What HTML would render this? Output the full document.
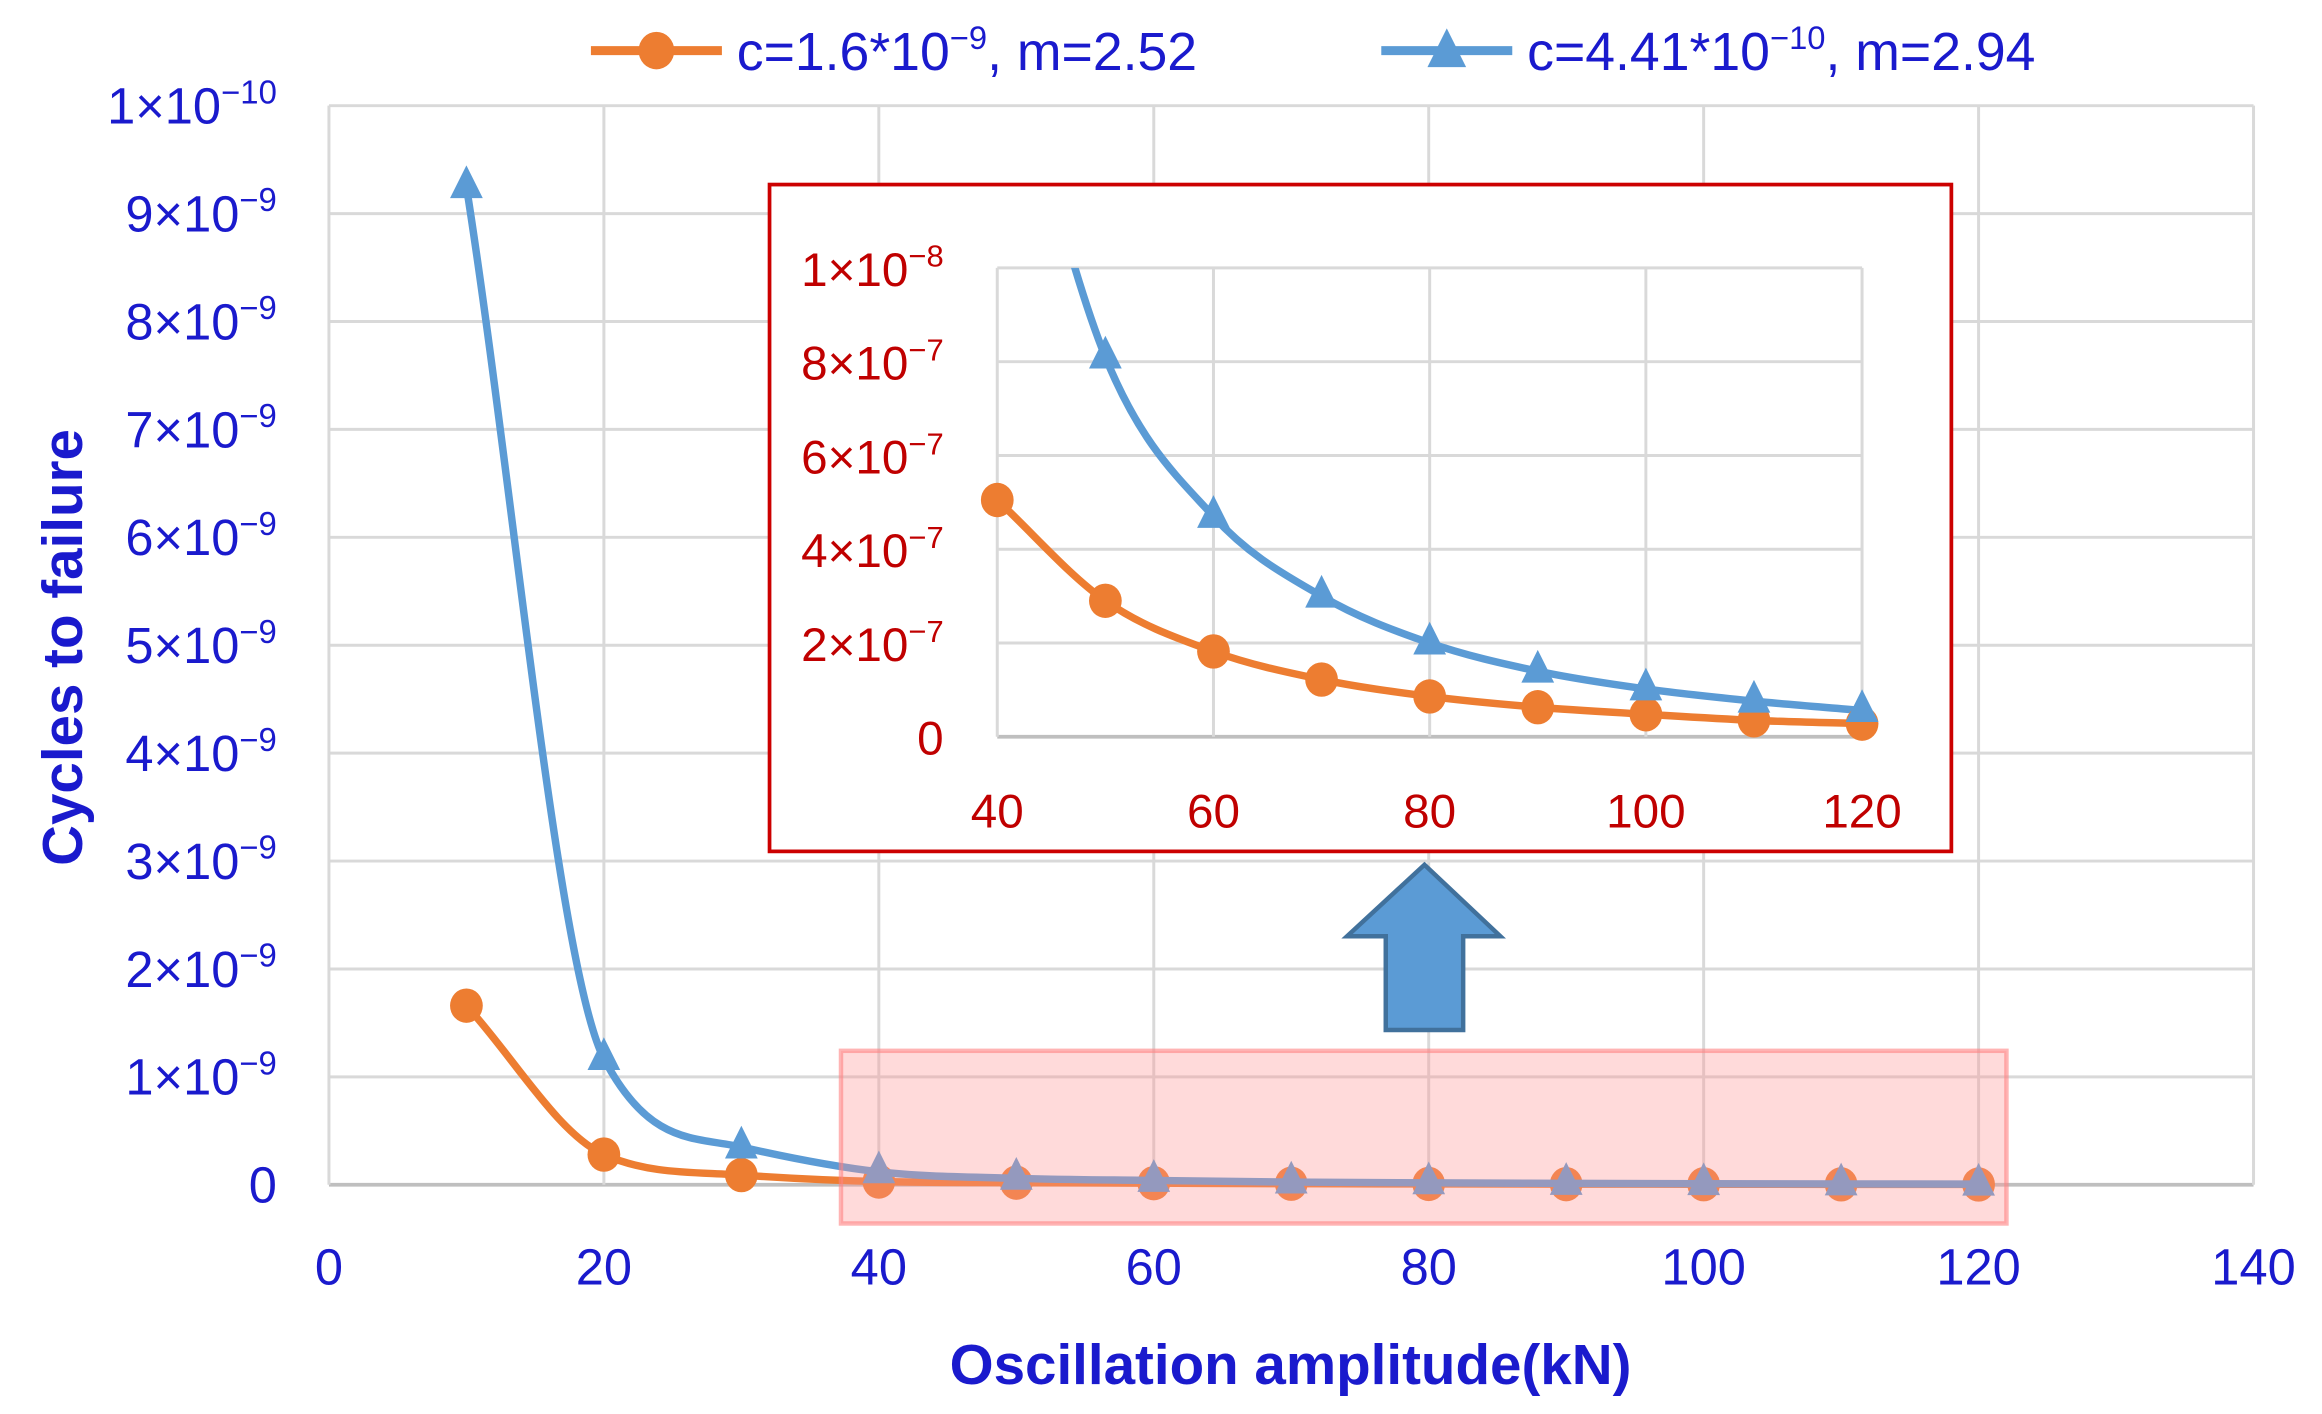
<!DOCTYPE html>
<html><head><meta charset="utf-8"><style>
html,body{margin:0;padding:0;background:#fff;}
svg{display:block;}
text{font-family:"Liberation Sans Narrow","Liberation Sans",sans-serif;}
</style></head><body>
<svg id="chart" width="2322" height="1414" viewBox="0 0 1560 950" preserveAspectRatio="none" xmlns="http://www.w3.org/2000/svg">
<g id="main"></g>
<g id="inset"></g>
</svg>
<script>
// Main chart data (y in units of 1e-9)
const xVals = [10,20,30,40,50,60,70,80,90,100,110,120];
const orangeMain = [1.66,0.28,0.09,0.03,0.02,0.015,0.01,0.008,0.006,0.005,0.004,0.003];
const blueMain = [9.25,1.17,0.35,0.12,0.06,0.04,0.025,0.018,0.013,0.01,0.008,0.006];
const xTicks = [0,20,40,60,80,100,120,140];
const yTickMant = ["0","1","2","3","4","5","6","7","8","9","1"];
const yTickExp = ["","-9","-9","-9","-9","-9","-9","-9","-9","-9","-10"];
// Inset data (y in units of 1e-7)
const insetX = [40,50,60,70,80,90,100,110,120];
const orangeInset = [5.05,2.9,1.82,1.22,0.86,0.63,0.48,0.35,0.28];
const blueInset = [16,8.1,4.7,3.0,2.0,1.4,1.02,0.76,0.56];
const insetXTicks = [40,60,80,100,120];
const insetYTickMant = ["0","2","4","6","8","1"];
const insetYTickExp = ["","-7","-7","-7","-7","-8"];

const NS="http://www.w3.org/2000/svg";
function mk(tag,attrs,parent){const e=document.createElementNS(NS,tag);for(const k in attrs)e.setAttribute(k,attrs[k]);parent.appendChild(e);return e;}
function smooth(pts){
  const n=pts.length;const d=[],m=new Array(n);
  for(let i=0;i<n-1;i++)d.push((pts[i+1][1]-pts[i][1])/(pts[i+1][0]-pts[i][0]));
  m[0]=d[0];m[n-1]=d[n-2];
  for(let i=1;i<n-1;i++){m[i]=(d[i-1]*d[i]<=0)?0:(d[i-1]+d[i])/2;}
  for(let i=0;i<n-1;i++){if(d[i]===0){m[i]=0;m[i+1]=0;continue;}const a=m[i]/d[i],b=m[i+1]/d[i],s=a*a+b*b;if(s>9){const t=3/Math.sqrt(s);m[i]=t*a*d[i];m[i+1]=t*b*d[i];}}
  let path=`M${pts[0][0]},${pts[0][1]}`;
  for(let i=0;i<n-1;i++){const h=(pts[i+1][0]-pts[i][0])/3;path+=` C${pts[i][0]+h},${pts[i][1]+m[i]*h} ${pts[i+1][0]-h},${pts[i+1][1]-m[i+1]*h} ${pts[i+1][0]},${pts[i+1][1]}`;}
  return path;}
function supLabel(g,x,y,m,e,size,color,anchor){const t=mk('text',{x:x,y:y,'font-size':size,fill:color,'text-anchor':anchor},g);t.appendChild(document.createTextNode(m==="0"&&e===""?"0":m+"×10"));if(e){const s=mk('tspan',{dy:-size*0.4,'font-size':size*0.65},t);s.textContent="−"+e.replace('-','');}return t;}
function circle(g,x,y,r){return mk('ellipse',{cx:x,cy:y,rx:r,ry:r*1.05,fill:'#ED7D31'},g);}
function tri(g,x,y,r){return mk('polygon',{points:`${x},${y-r*1.3} ${x-r},${y+r*0.7} ${x+r},${y+r*0.7}`,fill:'#5B9BD5'},g);}

const main=document.getElementById('main');
const X0=221,X1=1514,Y0=796,Y1=71;
const sx=v=>X0+(v-0)/(140-0)*(X1-X0);
const sy=v=>Y0-(v/10)*(Y0-Y1);
for(let i=0;i<=10;i++){const l=mk('line',{x1:X0,x2:X1,y1:sy(i),y2:sy(i),stroke:i===0?'#bfbfbf':'#d9d9d9','stroke-width':i===0?2.5:2},main);}
xTicks.forEach(v=>{const l=mk('line',{x1:sx(v),x2:sx(v),y1:Y1,y2:Y0,stroke:'#d9d9d9','stroke-width':2},main);});
yTickMant.forEach((m,i)=>{const t=supLabel(main,186,sy(i)+12,m,yTickExp[i],34,'#1a1acd','end');});
xTicks.forEach(v=>{const t=mk('text',{x:sx(v),y:863,'font-size':34,fill:'#1a1acd','text-anchor':'middle'},main);t.textContent=v;});
let tt=mk('text',{x:867,y:930,'font-size':38,'font-weight':'bold',fill:'#1a1acd','text-anchor':'middle'},main);tt.textContent='Oscillation amplitude(kN)';

tt=mk('text',{x:0,y:0,'font-size':38,'font-weight':'bold',fill:'#1a1acd','text-anchor':'middle',transform:'translate(55,435) rotate(-90)'},main);tt.textContent='Cycles to failure';

let p=mk('path',{d:smooth(xVals.map((x,i)=>[sx(x),sy(orangeMain[i])])),fill:'none',stroke:'#ED7D31','stroke-width':5},main);

xVals.forEach((x,i)=>{const c=circle(main,sx(x),sy(orangeMain[i]),11);});
p=mk('path',{d:smooth(xVals.map((x,i)=>[sx(x),sy(blueMain[i])])),fill:'none',stroke:'#5B9BD5','stroke-width':5},main);

xVals.forEach((x,i)=>{const c=tri(main,sx(x),sy(blueMain[i]),11);});
let r=mk('rect',{x:565,y:706,width:783,height:116,fill:'rgba(255,150,150,0.35)',stroke:'rgba(255,130,130,0.6)','stroke-width':3},main);

r=mk('polygon',{points:'957,581 1008,629 983,629 983,692 931,692 931,629 905,629',fill:'#5B9BD5',stroke:'#41719C','stroke-width':3},main);

const leg=[[397,'#ED7D31','c=1.6*10','-9',', m=2.52','circle'],[928,'#5B9BD5','c=4.41*10','-10',', m=2.94','tri']];
leg.forEach(L=>{const g=mk('g',{},main);
mk('line',{x1:L[0],x2:L[0]+88,y1:34,y2:34,stroke:L[1],'stroke-width':6},g);
if(L[5]==='circle')circle(g,L[0]+44,34,12);else tri(g,L[0]+44,36,13);
const t=mk('text',{x:L[0]+98,y:47,'font-size':36,fill:'#1a1acd'},g);t.appendChild(document.createTextNode(L[2]));
const s=mk('tspan',{dy:-14,'font-size':22},t);s.textContent=L[3].replace('-','−');const s2=mk('tspan',{dy:14},t);s2.textContent=L[4];});

const ins=document.getElementById('inset');
r=mk('rect',{x:517,y:124,width:794,height:448,fill:'#fff',stroke:'#cc0000','stroke-width':2.5},ins);

const IX0=670,IX1=1251,IY0=495,IY1=180;
const ix=v=>IX0+(v-40)/(120-40)*(IX1-IX0);
const iy=v=>IY0-(v/10)*(IY0-IY1);
for(let i=0;i<=10;i+=2){const l=mk('line',{x1:IX0,x2:IX1,y1:iy(i),y2:iy(i),stroke:i===0?'#bfbfbf':'#d9d9d9','stroke-width':i===0?2.5:2},ins);}
insetXTicks.forEach(v=>{const l=mk('line',{x1:ix(v),x2:ix(v),y1:IY1,y2:IY0,stroke:'#d9d9d9','stroke-width':2},ins);});
insetYTickMant.forEach((m,i)=>{const t=supLabel(ins,634,iy(i*2)+12,m,insetYTickExp[i],32,'#c00000','end');});
insetXTicks.forEach(v=>{const t=mk('text',{x:ix(v),y:556,'font-size':32,fill:'#c00000','text-anchor':'middle'},ins);t.textContent=v;});
mk('clipPath',{id:'ic'},ins).appendChild(document.createElementNS(NS,'rect'));
const cr=document.querySelector('#ic rect');cr.setAttribute('x',600);cr.setAttribute('y',IY1);cr.setAttribute('width',700);cr.setAttribute('height',380);
p=mk('path',{d:smooth(insetX.map((x,i)=>[ix(x),iy(orangeInset[i])])),fill:'none',stroke:'#ED7D31','stroke-width':5},ins);

p=mk('path',{d:smooth(insetX.map((x,i)=>[ix(x),iy(blueInset[i])])),fill:'none',stroke:'#5B9BD5','stroke-width':5,'clip-path':'url(#ic)'},ins);

insetX.forEach((x,i)=>{const c=circle(ins,ix(x),iy(orangeInset[i]),11);});
insetX.forEach((x,i)=>{if(blueInset[i]>10)return;const c=tri(ins,ix(x),iy(blueInset[i]),11);});
</script>
</body></html>
